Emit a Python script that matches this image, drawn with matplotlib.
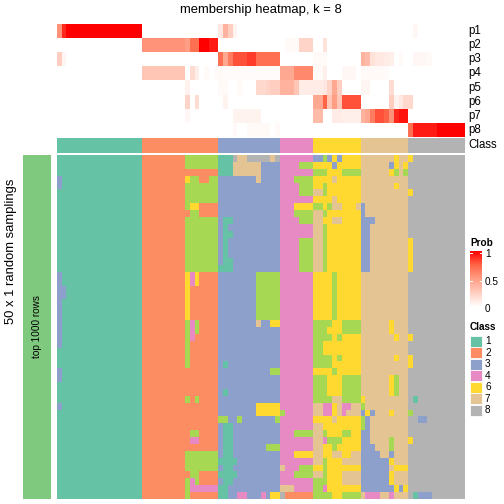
import numpy as np
import matplotlib
matplotlib.use("Agg")
import matplotlib.pyplot as plt
from matplotlib.colors import ListedColormap, BoundaryNorm, LinearSegmentedColormap
from matplotlib.patches import Rectangle

plt.rcParams['font.family'] = ['Liberation Sans', 'DejaVu Sans']

# class colours (class 5 never wins a column, so it is not in the legend)
class_colors = ["#66C2A5", "#FC8D62", "#8DA0CB", "#E78AC3", "#A6D854", "#FFD92F", "#E5C494", "#B3B3B3"]
legend_classes = [1, 2, 3, 4, 6, 7, 8]
prob_labels = ["p1", "p2", "p3", "p4", "p5", "p6", "p7", "p8"]

# predicted class of each column (groups: 1,2,3,4,6,7,8)
column_class = "111111111111111111 2222222222222222 3333333333333 4444444 6666666666 7777777777 888888888888"

# membership probabilities, one list per class, 86 columns
p1 = [.55, .9, 1, 1, 1, 1, 1, 1, 1, 1, 1, 1, 1, 1, 1, 1, 1, 1,
      0, 0, 0, 0, 0, 0, 0, 0, 0, 0, 0, 0, 0, 0, 0, 0,
      .12, .4, .25, .06, 0, 0, 0, 0, 0, 0, 0, 0, 0,
      0, 0, 0, 0, 0, 0, 0,
      0, 0, 0, 0, 0, 0, 0, 0, 0, 0,
      0, 0, 0, 0, 0, 0, 0, 0, 0, 0,
      0, .04, 0, 0, 0, 0, 0, 0, 0, 0, 0, 0]
p2 = [0, 0, 0, 0, 0, 0, 0, 0, 0, 0, 0, 0, 0, 0, 0, 0, 0, 0,
      .55, .55, .55, .55, .55, .55, .55, .55, .55, .5, .7, .7, 1, 1, .93, .93,
      0, 0, 0, 0, 0, 0, 0, 0, 0, 0, 0, 0, 0,
      0, .03, .03, .03, .22, .22, .22,
      0, 0, .15, 0, 0, 0, 0, 0, 0, 0,
      0, 0, 0, 0, 0, 0, 0, 0, 0, 0,
      0, 0, 0, 0, 0, 0, 0, 0, 0, 0, 0, 0]
p3 = [.25, .05, 0, 0, 0, 0, 0, 0, 0, 0, 0, 0, 0, 0, 0, 0, 0, 0,
      0, 0, 0, 0, 0, 0, 0, 0, 0, 0, 0, 0, 0, 0, 0, 0,
      .7, .45, .65, .8, .8, .8, .85, .85, .7, .7, .7, .7, .7,
      0, 0, 0, 0, 0, 0, 0,
      .03, .03, .03, 0, 0, 0, 0, 0, 0, 0,
      .4, .35, .15, .12, .12, .1, .08, 0, .03, 0,
      0, .04, .04, .04, .03, 0, 0, 0, 0, 0, 0, 0]
p4 = [0, 0, 0, 0, 0, 0, 0, 0, 0, 0, 0, 0, 0, 0, 0, 0, 0, 0,
      .3, .3, .3, .3, .3, .3, .3, .3, .3, 0, .18, .08, 0, .03, 0, .02,
      .03, .02, .02, .02, .02, .02, .02, .02, .02, .02, .02, .02, .02,
      .45, .45, .45, .6, .6, .6, .6,
      .03, .03, .08, 0, 0, 0, .04, .04, .04, 0,
      .03, .03, .03, .03, .03, .02, 0, 0, 0, 0,
      0, 0, 0, 0, 0, 0, 0, 0, 0, 0, 0, 0]
p5 = [0, 0, 0, 0, 0, 0, 0, 0, 0, 0, 0, 0, 0, 0, 0, 0, 0, 0,
      0, 0, 0, 0, 0, 0, 0, 0, 0, .07, 0, 0, 0, 0, 0, 0,
      .03, .03, 0, 0, .03, 0, 0, 0, .2, .2, .22, .25, .25,
      .4, .4, .4, .3, .1, .1, .1,
      .1, .1, .12, .22, .45, .25, 0, 0, 0, 0,
      .05, .05, 0, 0, 0, 0, .18, 0, 0, 0,
      0, 0, 0, 0, 0, 0, 0, 0, 0, 0, 0, 0]
p6 = [0, 0, 0, 0, 0, 0, 0, 0, 0, 0, 0, 0, 0, 0, 0, 0, 0, 0,
      0, 0, 0, 0, 0, 0, 0, 0, 0, .22, 0, .18, 0, 0, 0, 0,
      0, .06, 0, 0, 0, 0, 0, 0, 0, 0, 0, 0, 0,
      0, 0, 0, 0, 0, 0, 0,
      .45, .45, .75, .3, .5, .3, .8, .8, .8, .8,
      0, 0, 0, 0, 0, 0, .25, .06, .12, .2,
      .2, 0, 0, 0, 0, 0, 0, 0, 0, 0, 0, 0]
p7 = [0, 0, 0, 0, 0, 0, 0, 0, 0, 0, 0, 0, 0, 0, 0, 0, 0, 0,
      0, 0, 0, 0, 0, 0, 0, 0, 0, .04, 0, 0, 0, 0, 0, 0,
      0, 0, 0, .06, .06, .06, .06, .06, .06, 0, 0, 0, 0,
      0, 0, 0, 0, 0, 0, 0,
      .35, .35, 0, 0, .1, .1, .08, .08, .08, .08,
      .4, .45, .65, .8, .8, .75, .55, .9, .95, .95,
      0, 0, 0, 0, 0, 0, 0, 0, 0, 0, 0, 0]
p8 = [0, 0, 0, 0, 0, 0, 0, 0, 0, 0, 0, 0, 0, 0, 0, 0, 0, 0,
      0, 0, 0, 0, 0, 0, 0, 0, 0, 0, 0, 0, 0, 0, 0, 0,
      0, 0, 0, .03, 0, 0, .03, .03, .03, .03, .03, 0, .03,
      0, 0, 0, 0, 0, 0, 0,
      0, 0, 0, 0, 0, 0, 0, 0, 0, 0,
      0, 0, 0, 0, 0, 0, 0, 0, 0, 0,
      .7, .93, .93, .93, .93, .93, 1, 1, 1, 1, 1, 1]

# class assigned in each of the 50 random samplings (rows) for each column
samplings = [
    "111111111111111111 2222222225555555 1118778888878 4444444 3353636666 7777777677 688888888888",
    "111111111111111111 2222222225555555 1117777773333 4444555 6666366666 7777773676 888888888888",
    "111111111111111111 2222222222222222 1117777773333 4444444 5556665555 7777776575 888888888888",
    "311111111111111111 2222222226552255 3333333373333 4445555 6666766666 7777777777 888888888888",
    "311111111111111111 2222222225555555 3333333333333 4444555 6656666666 7777777677 888888888888",
    "111111111111111111 2222222225555555 3333333333333 4444555 7756666666 7777777777 688888888888",
    "111111111111111111 2222222225555555 3333333333333 4444444 6666766666 7777777777 888888888888",
    "111111111111111111 2222222225662222 3333333333333 4446666 5565776667 3777777777 888888888888",
    "111111111111111111 2222222222552222 3333333333333 4445555 7756666666 3777777777 888888888888",
    "111111111111111111 2222222225555555 3113333333333 4444555 7766776666 3337777777 888888888888",
    "111111111111111111 2222222225555555 3133333333333 4444444 7756666666 3377777777 888888888888",
    "111111111111111111 2222222225555555 3113333333333 4444444 7756666666 3377777777 888888888888",
    "111111111111111111 2222222225555555 3133333333333 4444555 7756666666 3377777777 688888888888",
    "111111111111111111 2222222225555555 3133333333333 4444555 7756666666 3377777777 688888888888",
    "111111111111111111 2222222225555555 3133333333333 4444555 7756666666 3377777777 688888888888",
    "111111111111111111 2222222225555555 3113333333333 4444555 7756666666 3377777777 688888888888",
    "111111111111111111 2222222225555555 1113333333333 4444555 7756666666 3377777777 688888888888",
    "311111111111111111 2222222226462222 3333333355555 4444444 6666566666 7777777777 888888888888",
    "311111111111111111 2222222226462222 3333333355555 4444444 6666566666 7777777777 888888888888",
    "331111111111111111 2222222226222222 3333333355555 4444444 6666566666 7777777777 888888888888",
    "331111111111111111 2222222226222222 3333333355555 4444444 6666566666 7777777777 888888888888",
    "311111111111111111 2222222226222222 3333333355555 4444444 6666566666 7777777777 888888888888",
    "311111111111111111 2222222226222222 3333333355555 4444444 6666566666 7777777777 888888888888",
    "311111111111111111 2222222226222222 3333333355555 4444444 6666566666 7777777777 888888888888",
    "311111111111111111 2222222225452222 3333333373366 4444444 5555665555 7777776777 888888888888",
    "311111111111111111 2222222225452222 3333333333333 4444444 5556665555 7777776777 888888888888",
    "311111111111111111 2222222225422222 3333333333333 4444444 5555656666 7777777677 688888888888",
    "311111111111111111 2222222225222222 3333333333333 4444444 5566666666 7777777777 888888888888",
    "111111111111111111 2222222225222222 3333333333333 4444444 5566666666 7777777777 888888888888",
    "111111111111111111 2222222225222222 3333333333333 4444444 5555656666 7777777677 688888888888",
    "111111111111111111 2222222225222222 3133333333333 4444444 5555666666 7777777777 688888888888",
    "311111111111111111 2222222222222222 3333333333355 4444444 6666566666 7777777777 888888888888",
    "311111111111111111 2222222222222222 3333333333333 4444444 5556665555 7777776577 888888888888",
    "111111111111111111 2222222222222222 3333333333333 4444444 5556665555 7777776577 888888888888",
    "111111111111111111 2222222222222222 3133333333333 4444444 5556665555 7777776577 888888888888",
    "111111111111111111 2222222225252222 3333333333333 4444444 5555775555 6777777777 818888888888",
    "311111111111111111 2222222222222222 3333333366666 4444444 7744674477 5777777777 888888888888",
    "111111111111111111 2222222222222222 3333333366666 5444444 7744674777 3637776777 588888888888",
    "111111111111111111 2222222222222222 5533533333335 4444444 6666766666 5377777777 883388888888",
    "111111111111111111 2222222222222222 3113333333333 4444444 7766666666 5377777777 888888888888",
    "111111111111111111 2222222222552222 3113333333333 4445555 7756665566 3377777777 888888888888",
    "111111111111111111 2222222222442222 3113333333333 4444444 7745556666 3377775777 688888888888",
    "111111111111111111 2222222222222222 3113333333555 4444444 7766566666 3337775777 888888888888",
    "111111111111111111 2222222225555555 3113333333333 4446666 7766776677 3333773777 888888888888",
    "111111111111111111 2222222225555555 1111333333333 4444444 7756667777 3333336777 888888888888",
    "111111111111111111 2222222225555555 3113333333333 7444555 6656666666 3333337666 888888888888",
    "111111111111111111 2222222222552222 1111333333333 4445555 7756667777 3333336777 888888888888",
    "111111111111111111 2222222225452222 3113333333333 4444444 5556667777 3333336777 888888888888",
    "111111111111111111 2222222225444444 1133333333333 7774444 5546666666 3333333636 888888888888",
    "111111111111111111 2222222225222222 1133443334366 8222222 5555665555 7444774777 813338888888",
]

col_cls = np.array([int(c) for c in column_class.replace(" ", "")])
mat = np.array([[int(c) for c in r.replace(" ", "")] for r in samplings])
prob = np.array([p1, p2, p3, p4, p5, p6, p7, p8])

cls_cmap = ListedColormap(class_colors)
cls_norm = BoundaryNorm(np.arange(0.5, 9.5, 1), cls_cmap.N)
prob_cmap = LinearSegmentedColormap.from_list(
    "prob", ["#FFFFFF", "#FFCFC1", "#FF9F86", "#FF6648", "#FF0000"])

W = H = 504.0
fig = plt.figure(figsize=(7, 7), dpi=72)


def box(x0, y0, x1, y1):
    return [x0 / W, 1 - y1 / H, (x1 - x0) / W, (y1 - y0) / H]


# ----- top annotation: probabilities ----- #
ax_p = fig.add_axes(box(57, 24, 465, 137))
ax_p.imshow(prob, aspect='auto', interpolation='nearest', cmap=prob_cmap, vmin=0, vmax=1)
ax_p.axis('off')
row_h = (137 - 24) / 8.0
for i, lab in enumerate(prob_labels):
    fig.text(468 / W, 1 - (24 + row_h * (i + 0.5)) / H, lab, fontsize=11.5, va='center', ha='left')

# ----- class annotation ----- #
ax_c = fig.add_axes(box(57, 138, 465, 153))
ax_c.imshow(col_cls[None, :], aspect='auto', interpolation='nearest', cmap=cls_cmap, norm=cls_norm)
ax_c.axis('off')
fig.text(468 / W, 1 - 145.5 / H, "Class", fontsize=11.5, va='center', ha='left')

# ----- main heatmap ----- #
ax_m = fig.add_axes(box(57, 155, 465, 499))
ax_m.imshow(mat, aspect='auto', interpolation='nearest', cmap=cls_cmap, norm=cls_norm)
ax_m.axis('off')

# ----- left split bar ----- #
ax_l = fig.add_axes(box(23, 155, 51, 499))
ax_l.imshow([[0]], aspect='auto', cmap=ListedColormap(["#7FC97F"]))
ax_l.axis('off')
ax_l.text(0.5, 0.5, "top 1000 rows", transform=ax_l.transAxes, rotation=90,
          ha='center', va='center', fontsize=10)
fig.text(11 / W, 1 - 251 / H, "50 x 1 random samplings", rotation=90,
         ha='center', va='center', fontsize=13)

# ----- title ----- #
fig.text(261 / W, 1 - 10 / H, "membership heatmap, k = 8", ha='center', va='center', fontsize=13)

# ----- legends ----- #
ax_leg = fig.add_axes(box(466, 230, 504, 420))
ax_leg.set_xlim(466, 504)
ax_leg.set_ylim(420, 230)
ax_leg.axis('off')

ax_leg.text(470, 243, "Prob", fontsize=10, fontweight='bold', va='center', ha='left')
grad = np.linspace(1, 0, 200)[:, None]
ax_leg.imshow(grad, extent=[470, 482, 307, 251], aspect='auto', cmap=prob_cmap,
              vmin=0, vmax=1, interpolation='bilinear')
for v, y in [(1, 254), (0.5, 281.5), (0, 309)]:
    ax_leg.text(485, y, str(v), fontsize=10, va='center', ha='left')
for y in [253, 280.5]:
    ax_leg.plot([470, 472], [y, y], color='white', lw=1)
    ax_leg.plot([480, 482], [y, y], color='white', lw=1)

ax_leg.text(470, 327, "Class", fontsize=10, fontweight='bold', va='center', ha='left')
for k, c in enumerate(legend_classes):
    yc = 341 + 11.5 * k
    ax_leg.add_patch(Rectangle((470, yc - 5.5), 12, 11, facecolor=class_colors[c - 1],
                               edgecolor='white', lw=0.8))
    ax_leg.text(485, yc, str(c), fontsize=10, va='center', ha='left')
ax_leg.set_xlim(466, 504)
ax_leg.set_ylim(420, 230)

fig.savefig("out.png", dpi=72)
